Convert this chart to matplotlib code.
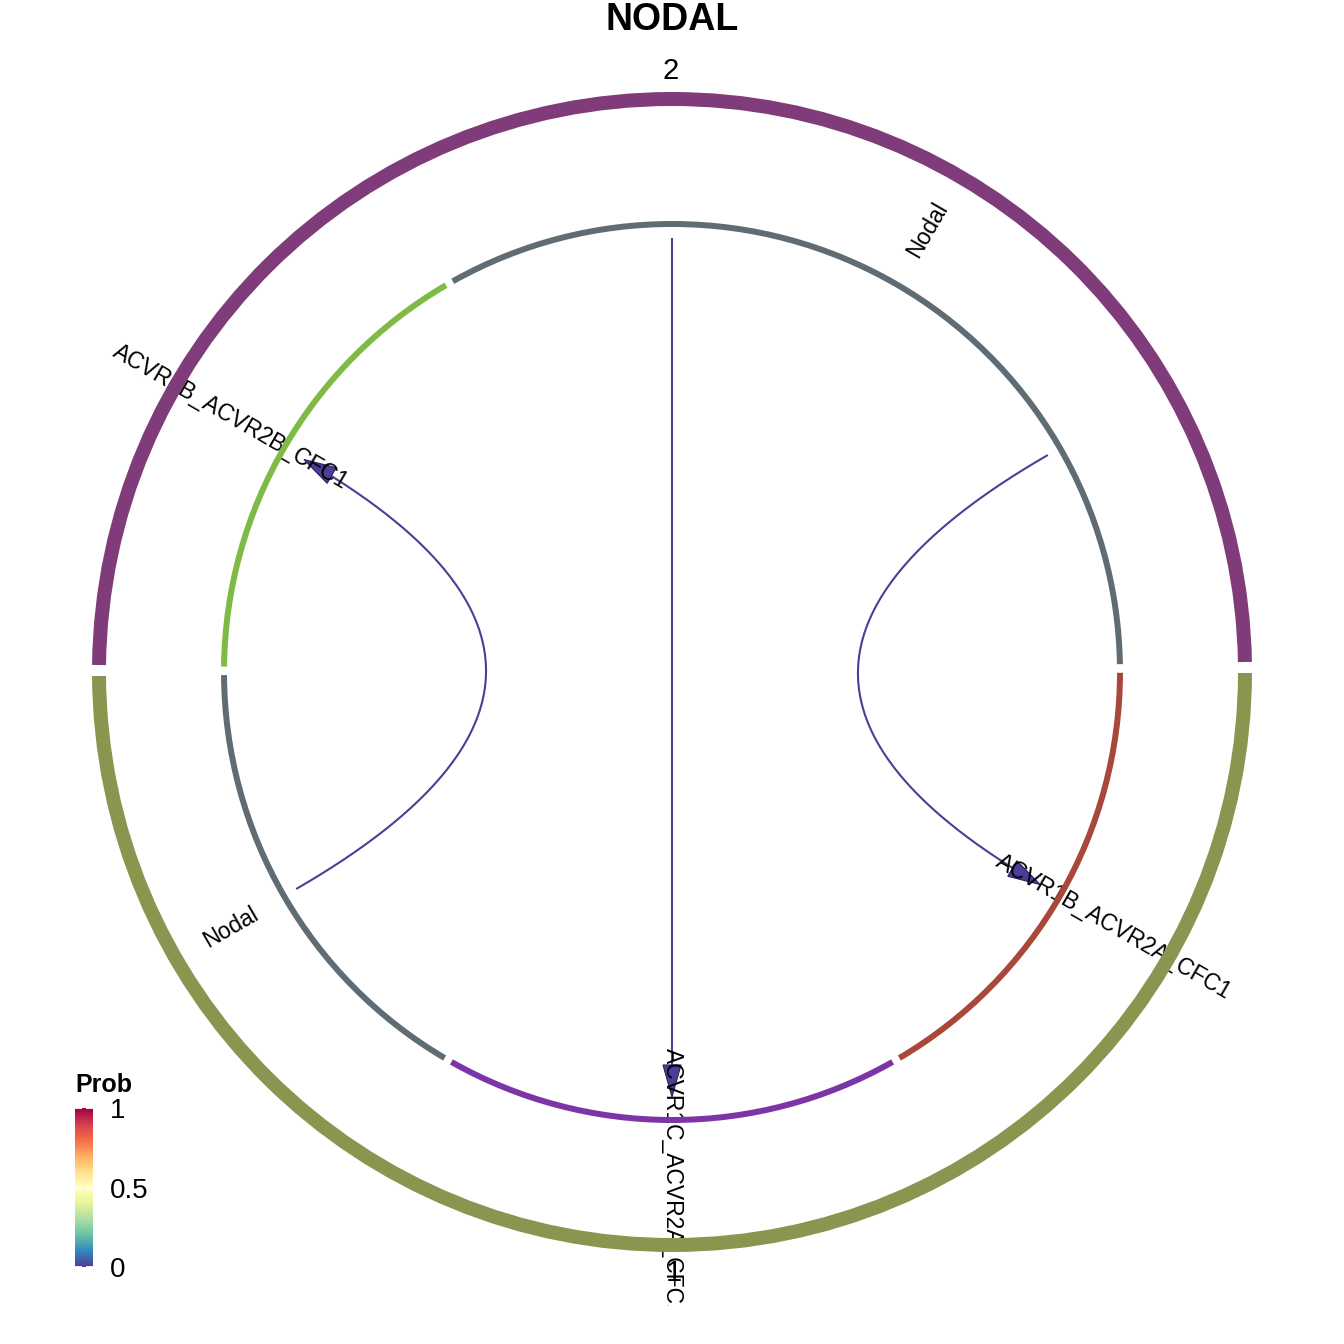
import numpy as np
import matplotlib
matplotlib.use("Agg")
import matplotlib.pyplot as plt
from matplotlib.patches import Wedge, Polygon, Rectangle
import matplotlib.colors as mcolors

plt.rcParams['font.family'] = ['Liberation Sans', 'DejaVu Sans']

# ---------------- data ----------------
title = "NODAL"
# outer group sectors (label, start angle, end angle, colour)
outer_labels = ["2", "1"]
outer_start = [1.0, 180.4]
outer_end = [179.3, 359.9]
outer_colors = ["#7F3B7A", "#8A9650"]

# inner sectors
inner_labels = ["Nodal", "ACVR1B_ACVR2B_CFC1", "Nodal", "ACVR1C_ACVR2A_CFC1", "ACVR1B_ACVR2A_CFC1"]
inner_start = [1.0, 120.3, 180.4, 240.5, 300.5]
inner_end = [119.3, 179.3, 239.5, 299.5, 359.9]
inner_label_angle = [60, 150, 210, 270, 330]
inner_colors = ["#606C74", "#7FBA46", "#606C74", "#7B35A6", "#A8483A"]

# links (from angle -> to angle, probability)
link_from = [30, 90, 210]
link_to = [330, 270, 150]
link_prob = [0.0, 0.0, 0.0]

cbar_ticks = [0, 0.5, 1]
cbar_ticklabels = ["0", "0.5", "1"]

# ---------------- figure ----------------
fig = plt.figure(figsize=(13.44, 13.44), dpi=100)
ax = fig.add_axes([0, 0, 1, 1])
ax.set_xlim(-672, 672)
ax.set_ylim(-672, 672)
ax.set_aspect('equal')
ax.axis('off')

spectral = ["#4E3C96", "#3288BD", "#66C2A5", "#ABDDA4", "#E6F598", "#FFFFBF",
            "#FEE08B", "#FDAE61", "#F46D43", "#D53E4F", "#9E0142"]
cmap = mcolors.LinearSegmentedColormap.from_list("spec", spectral)
norm = mcolors.Normalize(0, 1)

R_OUT, W_OUT = 580, 14
R_IN, W_IN = 451, 6

for s, e, c in zip(outer_start, outer_end, outer_colors):
    ax.add_patch(Wedge((0, 0), R_OUT, s, e, width=W_OUT, facecolor=c, edgecolor='none', zorder=3))
for s, e, c in zip(inner_start, inner_end, inner_colors):
    ax.add_patch(Wedge((0, 0), R_IN, s, e, width=W_IN, facecolor=c, edgecolor='none', zorder=3))

clip_rect = Rectangle((-672, -634), 1344, 1306, transform=ax.transData, visible=False)
ax.add_patch(clip_rect)

# outer labels
for lab, s, e in zip(outer_labels, outer_start, outer_end):
    a = np.deg2rad((s + e) / 2)
    t = ax.text(601 * np.cos(a), 601 * np.sin(a), lab, fontsize=21, ha='center', va='center',
                zorder=2, clip_on=True)
    t.set_clip_path(clip_rect)

# inner labels (radial)
for lab, ang in zip(inner_labels, inner_label_angle):
    a = np.deg2rad(ang)
    if 90 < ang < 270:
        rot = ang - 180
    elif ang >= 270:
        rot = ang - 360
    else:
        rot = ang
    t = ax.text(510 * np.cos(a), 510 * np.sin(a), lab, fontsize=16.5, rotation=rot,
                rotation_mode='anchor', ha='center', va='center', zorder=2, clip_on=True)
    t.set_clip_path(clip_rect)

# links
r0, r1 = 434, 425
for fa, ta, p in zip(link_from, link_to, link_prob):
    a0, a1 = np.deg2rad(fa), np.deg2rad(ta)
    P0 = np.array([r0 * np.cos(a0), r0 * np.sin(a0)])
    P2 = np.array([r1 * np.cos(a1), r1 * np.sin(a1)])
    C = np.array([0.0, 0.0])
    t = np.linspace(0, 1, 300)[:, None]
    B = (1 - t) ** 2 * P0 + 2 * (1 - t) * t * C + t ** 2 * P2
    col = cmap(norm(p))
    d = P2 - C
    d = d / np.linalg.norm(d)
    nrm = np.array([-d[1], d[0]])
    L, W = 32, 9
    base = P2 - L * d
    dist = np.linalg.norm(B - P2, axis=1)
    keep = dist >= L * 0.8
    ax.plot(B[keep, 0], B[keep, 1], color=col, lw=1.5, zorder=1, solid_capstyle='butt')
    tri = np.array([P2, base + W * nrm, base - W * nrm])
    ax.add_patch(Polygon(tri, closed=True, facecolor=col, edgecolor='#2a2060', lw=0.8, zorder=1))

# title
fig.text(0.5, 1 - 20 / 1344, title, fontsize=27, fontweight='bold', ha='center', va='center')

# colorbar
cax = fig.add_axes([75 / 1344, 1 - 1267 / 1344, 18 / 1344, 159 / 1344])
sm = matplotlib.cm.ScalarMappable(norm=norm, cmap=cmap)
cb = fig.colorbar(sm, cax=cax, ticks=cbar_ticks)
cb.outline.set_visible(False)
cb.ax.set_yticklabels(cbar_ticklabels)
cb.ax.tick_params(axis='y', direction='in', length=5, width=1.3, color='white',
                  labelsize=20, pad=12, left=True, right=True)
cax.text(0.0, 1.07, "Prob", transform=cax.transAxes, fontsize=18, fontweight='bold',
         ha='left', va='bottom')

fig.savefig("out.png", dpi=100)
